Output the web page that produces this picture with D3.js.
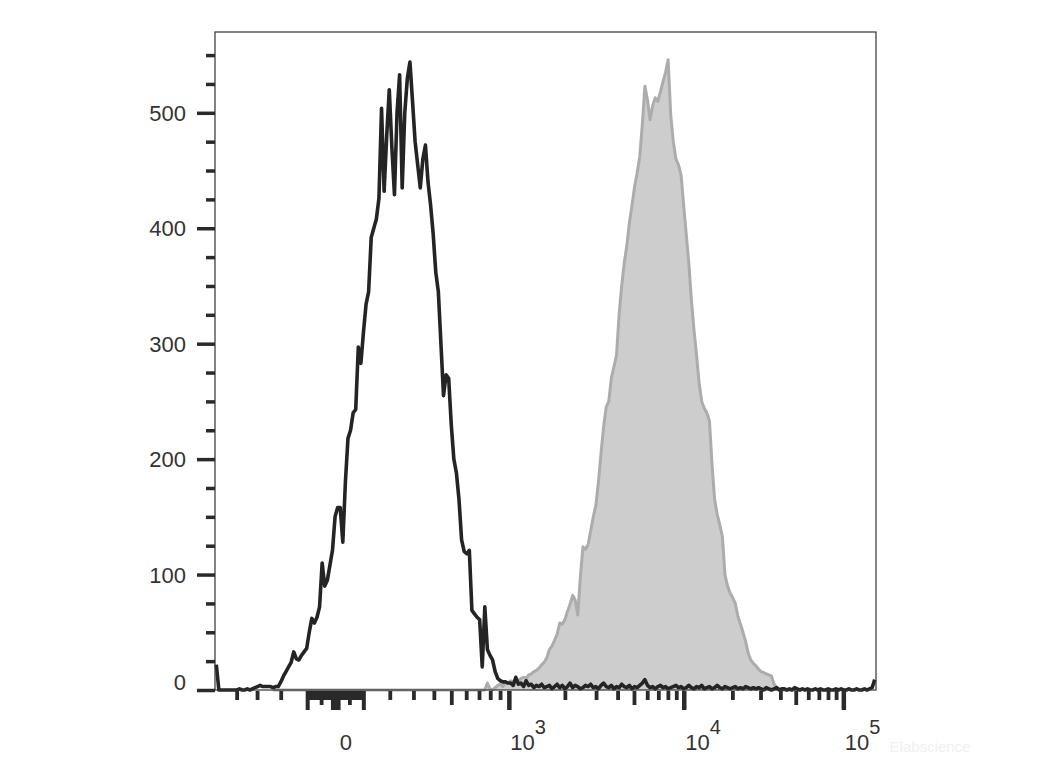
<!DOCTYPE html>
<html><head><meta charset="utf-8">
<script src="https://cdn.jsdelivr.net/npm/d3@7"></script>
<style>
body{margin:0;background:#fff}
svg{display:block}
text{font-family:"Liberation Sans",Arial,Helvetica,sans-serif;fill:#333}
</style>
</head><body>
<svg id="chart" width="1040" height="780"></svg>
<script>
// ---------------- data ----------------
const channelCount = 256;            // display channels across the logicle axis
const xExtent = [-530, 160000];      // fluorescence range shown on the axis
const yMax = 570;

// unstained / control histogram (black line), counts per channel starting at channel 0
const blackStart = 0;
const blackCounts = [
  22,0,0,0,0,0,0,0,0,1,0,0,1,0,1,
  2,3,4,3,3,3,3,2,3,3,
  7,12,16,20,24,33,27,26,30,33,
  36,50,62,58,63,72,110,90,95,108,
  121,150,158,158,128,180,218,225,240,243,
  297,283,310,334,345,392,400,408,426,504,
  432,480,520,470,429,500,533,435,500,530,
  544,510,475,455,435,460,472,440,420,395,
  362,345,300,255,273,270,230,200,188,165,
  130,120,118,121,69,66,63,61,20,72,
  35,30,26,16,10,8,7,7,6,6,
  4,11,5,
  6,3,8,4,5,2,4,3,5,2,
  3,4,1,3,5,2,4,1,3,6,
  2,4,3,1,2,4,3,5,2,3,
  1,4,6,3,2,4,1,3,2,5,
  3,2,4,1,3,2,4,6,9,4,
  2,3,1,3,4,2,3,1,2,3,
  4,2,3,1,2,4,2,1,3,2,
  4,1,2,3,1,2,4,2,1,3,
  2,1,2,3,1,2,1,3,2,1,
  2,1,2,1,0,2,1,0,1,2,
  0,1,1,0,1,0,2,1,0,1,
  0,1,0,0,1,0,1,0,0,1,
  0,0,1,0,1,0,0,1,0,0,
  1,0,0,1,0,1,2,9
];

// stained histogram (grey filled), counts per channel starting at channel 22
const greyStart = 22;
const greyCounts = [
  0,0,0,0,0,0,0,0,0,0,
  0,0,0,0,0,0,0,0,0,0,
  0,0,0,0,0,0,0,0,0,0,
  0,0,0,0,0,0,0,0,0,0,
  0,0,0,0,0,0,0,0,0,0,
  0,0,0,0,0,0,0,0,0,0,
  0,0,0,0,0,0,0,0,0,0,
  0,0,0,0,0,0,0,0,0,0,
  0,0,
  0,6,1,0,
  2,4,5,3,7,6,8,7,9,8,
  10,11,10,13,14,16,17,19,22,24,
  28,35,38,43,48,58,57,61,68,74,
  82,78,65,98,124,122,126,138,150,160,
  180,205,228,245,250,270,280,290,325,350,
  370,385,405,420,436,448,462,490,523,511,
  494,506,513,510,518,527,535,546,498,475,
  460,455,446,420,395,370,338,312,290,266,
  250,244,240,233,195,165,152,143,133,100,
  90,84,80,75,64,57,50,42,32,26,
  23,21,18,16,15,14,13,12,5,2,
  1,
  0,0,0,0,0,0,0
];

// axis ticks
const yTickValues = [0,100,200,300,400,500];
const yTickLabels = ["0","100","200","300","400","500"];
const yMinorValues = [25,50,75,125,150,175,225,250,275,325,350,375,425,450,475,525,550];

const xMajorValues = [0, 1000, 10000, 100000];
const xMajorBase   = ["0", "10", "10", "10"];
const xMajorExp    = ["", "3", "4", "5"];
const xLongValues  = [-100, -10, 10, 100];
const xMidValues   = [-50, 50, 500, 5000, 50000];
const xShortValues = [-400,-300,-200,-90,-80,-70,-60,-40,-30,-20,
                      20,30,40,60,70,80,90,
                      200,300,400,600,700,800,900,
                      2000,3000,4000,6000,7000,8000,9000,
                      20000,30000,40000,60000,70000,80000,90000];
const watermark = "Elabscience";

// ---------------- logicle transform ----------------
const LK = 58, LP = 3.15;
function logicleInverse(u){
  const s = Math.abs(u), p2 = LP*LP;
  const v = LK*(Math.pow(10,s) - p2*Math.pow(10,-s/LP) + p2 - 1);
  return u < 0 ? -v : v;
}
function logicle(v){
  let lo = -3, hi = 7;
  for (let i = 0; i < 80; i++){
    const m = (lo+hi)/2;
    if (logicleInverse(m) < v) lo = m; else hi = m;
  }
  return (lo+hi)/2;
}

// ---------------- layout ----------------
const L = 215, R = 876, T = 32, B = 690;
const svg = d3.select("#chart");
svg.append("rect").attr("width",1040).attr("height",780).attr("fill","#fff");

const xc = d3.scaleLinear().domain([0, channelCount]).range([L, R]);
const xU = d3.scaleLinear().domain([logicle(xExtent[0]), logicle(xExtent[1])]).range([L, R]);
const xPos = v => xU(logicle(v));
const y = d3.scaleLinear().domain([0, yMax]).range([B, T]);

const greyData = greyCounts.map((n,i)=>({c: greyStart+i, n}));
const blackData = blackCounts.map((n,i)=>({c: blackStart+i, n}));

// grey filled histogram
svg.append("path").datum(greyData)
  .attr("d", d3.area().x(d=>xc(d.c+0.5)).y0(y(0)).y1(d=>y(d.n)))
  .attr("fill","#cdcdcd");
svg.append("path").datum(greyData)
  .attr("d", d3.line().x(d=>xc(d.c+0.5)).y(d=>y(d.n)))
  .attr("fill","none").attr("stroke","#acacac").attr("stroke-width",3)
  .attr("stroke-linejoin","round");

// black line histogram
svg.append("path").datum(blackData)
  .attr("d", d3.line().x(d=>xc(d.c+0.5)).y(d=>y(d.n)))
  .attr("fill","none").attr("stroke","#242424").attr("stroke-width",3.6)
  .attr("stroke-linejoin","round");

// frame
svg.append("rect").attr("x",L).attr("y",T).attr("width",R-L).attr("height",B-T)
  .attr("fill","none").attr("stroke","#333").attr("stroke-width",1.2);

// y axis
const yAxisG = svg.append("g").attr("transform",`translate(${L},0)`)
  .call(d3.axisLeft(y).tickValues(yTickValues).tickSize(18).tickPadding(11)
        .tickFormat((d,i)=>yTickLabels[i]));
const yMinorG = svg.append("g").attr("transform",`translate(${L},0)`)
  .call(d3.axisLeft(y).tickValues(yMinorValues).tickSize(9).tickFormat(""));
[yAxisG, yMinorG].forEach(g=>{
  g.select(".domain").remove();
  g.selectAll(".tick line").attr("stroke","#2a2a2a").attr("stroke-width",3.5);
});
yAxisG.selectAll(".tick text").attr("font-size",22).attr("fill","#333")
  .style("font-family",'"Liberation Sans",Arial,sans-serif')
  .attr("dy",(d)=> d===0 ? "-0.04em" : "0.34em");

// x axis ticks
function drawXTicks(vals, len, w){
  svg.append("g").selectAll("line").data(vals).join("line")
    .attr("x1",d=>xPos(d)).attr("x2",d=>xPos(d))
    .attr("y1",B+1).attr("y2",B+1+len)
    .attr("stroke","#2a2a2a").attr("stroke-width",w);
}
drawXTicks(xShortValues, 9, 3.8);
drawXTicks(xMidValues, 14, 3.8);
drawXTicks(xLongValues, 19, 4);
drawXTicks(xMajorValues, 19, 4.5);

// x labels
const xl = svg.append("g").selectAll("text").data(xMajorValues).join("text")
  .attr("font-size",22)
  .attr("y",750)
  .attr("x",(d,i)=> i===0 ? xPos(d)+10 : xPos(d)+1)
  .attr("text-anchor",(d,i)=> i===0 ? "middle" : "start");
xl.append("tspan").text((d,i)=>xMajorBase[i]);
xl.append("tspan").attr("font-size",20).attr("dy",-16).text((d,i)=>xMajorExp[i]);

// watermark
svg.append("text").attr("x",930).attr("y",752).attr("text-anchor","middle")
  .attr("font-size",15).style("fill","#f0f0f0").text(watermark);
</script>
</body></html>
